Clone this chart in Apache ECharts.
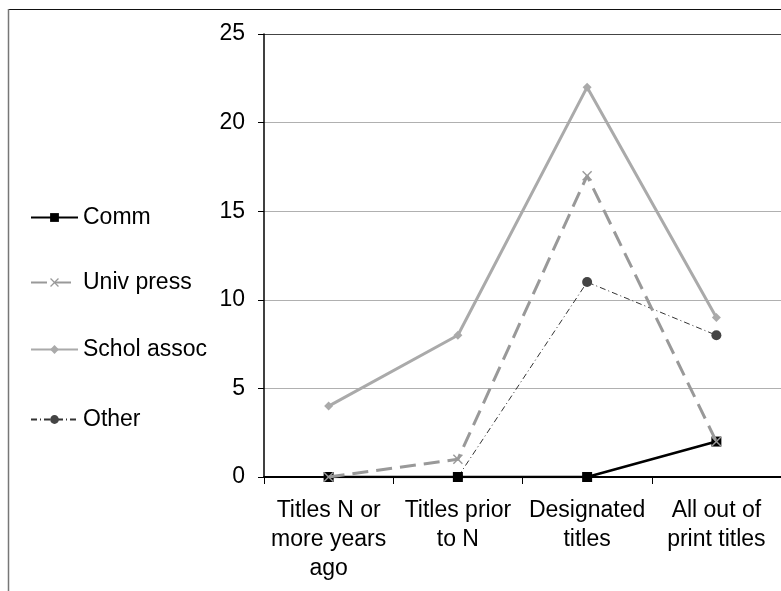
<!DOCTYPE html>
<html><head><meta charset="utf-8">
<script src="https://cdn.jsdelivr.net/npm/echarts@6/dist/echarts.min.js"></script>
<style>html,body{margin:0;padding:0;background:#fff}#c{width:781px;height:591px}</style>
</head><body><div id="c"></div>
<script>
const categories = ['Titles N or\nmore years\nago', 'Titles prior\nto N', 'Designated\ntitles', 'All out of\nprint titles'];
const seriesNames = ['Comm', 'Univ press', 'Schol assoc', 'Other'];
const comm = [0, 0, 0, 2];
const univPress = [0, 1, 17, 2];
const scholAssoc = [4, 8, 22, 9];
const other = [0, 0, 11, 8];
const yTicks = [0, 5, 10, 15, 20, 25];

const FONT = 'Liberation Sans, Arial, sans-serif';
const FS = 23;
const xPath = 'path://M0,1L1,0L5,4L9,0L10,1L6,5L10,9L9,10L5,6L1,10L0,9L4,5Z';

const chart = echarts.init(document.getElementById('c'), null, {renderer: 'canvas'});
const legendCenters = [215, 280, 347, 417];
const legends = seriesNames.map((n, i) => ({
  data: [n], orient: 'vertical', left: 30, top: legendCenters[i] - 9, padding: 0,
  itemWidth: 47, itemHeight: 11, itemGap: 5,
  textStyle: {fontFamily: FONT, fontSize: FS, color: '#000'},
  selectedMode: false
}));

chart.setOption({
  animation: false,
  backgroundColor: '#fff',
  textStyle: {fontFamily: FONT},
  legend: legends,
  grid: {left: 264, right: -2, top: 34, bottom: 114, containLabel: false},
  xAxis: {
    type: 'category', data: categories, boundaryGap: true,
    axisLine: {lineStyle: {color: '#000', width: 2}},
    axisTick: {show: true, length: 7, lineStyle: {color: '#000', width: 1}},
    axisLabel: {fontFamily: FONT, fontSize: FS, color: '#000', lineHeight: 29, margin: 19, interval: 0}
  },
  yAxis: {
    type: 'value', min: 0, max: 25, interval: 5,
    axisLine: {show: true, lineStyle: {color: '#000', width: 1.5}},
    axisTick: {show: true, length: 6, lineStyle: {color: '#000'}},
    axisLabel: {fontFamily: FONT, fontSize: FS, color: '#000', margin: 19,
      formatter: v => yTicks.includes(v) ? String(v) : ''},
    splitLine: {show: true, lineStyle: {color: ['#b0b0b0','#b0b0b0','#b0b0b0','#b0b0b0','#b0b0b0','#444'], width: 1.2}}
  },
  graphic: [
    {type: 'line', shape: {x1: 8, y1: 9.5, x2: 781, y2: 9.5}, style: {stroke: '#111', lineWidth: 1.2}, silent: true},
    {type: 'line', shape: {x1: 8.5, y1: 9, x2: 8.5, y2: 591}, style: {stroke: '#777', lineWidth: 1.5}, silent: true}
  ],
  series: [
    {name: 'Schol assoc', type: 'line', data: scholAssoc, z: 2,
      symbol: 'diamond', symbolSize: 9,
      lineStyle: {color: '#aaaaaa', width: 3},
      itemStyle: {color: '#aaaaaa'}},
    {name: 'Other', type: 'line', data: other, z: 3,
      symbol: 'circle', symbolSize: 10,
      lineStyle: {color: '#333', width: 1, type: [6, 3, 1, 3]},
      itemStyle: {color: '#444'}},
    {name: 'Comm', type: 'line', data: comm, z: 4,
      symbol: 'rect', symbolSize: 10,
      lineStyle: {color: '#000', width: 2.5},
      itemStyle: {color: '#000'}},
    {name: 'Univ press', type: 'line', data: univPress, z: 5,
      symbol: xPath, symbolSize: 10,
      lineStyle: {color: '#999999', width: 3, type: [16, 8]},
      itemStyle: {color: '#999999'}}
  ]
});
</script></body></html>
